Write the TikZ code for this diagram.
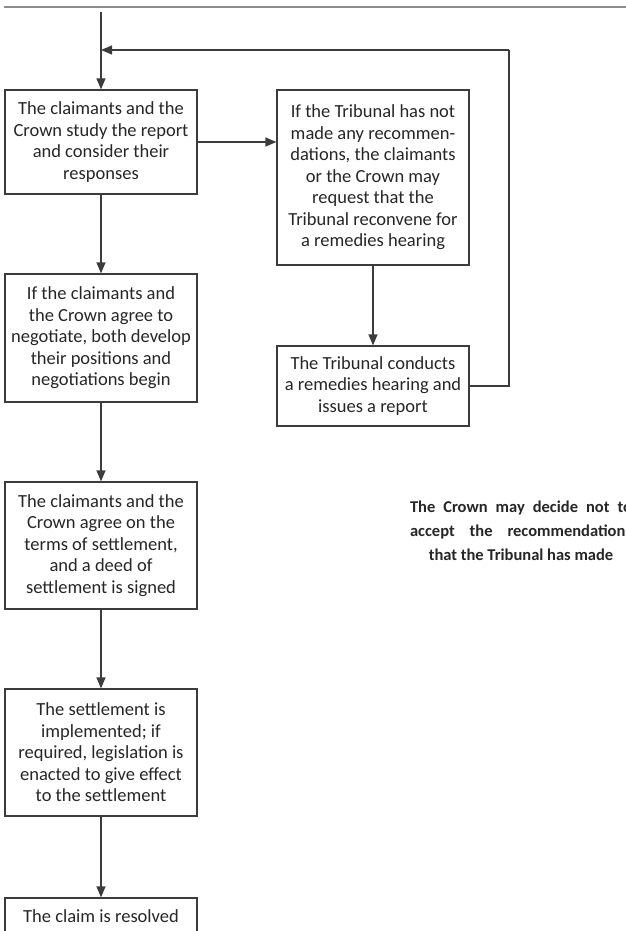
\documentclass[tikz,border=0pt]{standalone}
\usepackage{fontspec}
\setmainfont{Carlito}
\usetikzlibrary{arrows.meta}
\definecolor{tribline}{RGB}{60,60,60}
\definecolor{tribrule}{RGB}{140,140,140}

\begin{document}
\begin{tikzpicture}[x=1pt, y=-1pt,
  box/.style={draw=tribline, line width=1.2pt, minimum width=192pt, inner sep=0pt,
    align=center, font=\fontsize{18.5}{21.5}\selectfont, text=black!85},
  flow/.style={draw=tribline, line width=1.2pt, -{Triangle[length=11pt,width=9pt]}},
  link/.style={draw=tribline, line width=1.2pt}]
\useasboundingbox (0,0) rectangle (626,931);
% rule along the top
\draw[tribrule, line width=2pt] (4,7) -- (626,7);
% main column (left)
\node[box, minimum height=104pt] (study) at (101,142) {The claimants and the\\Crown study the report\\and consider their\\responses};
\node[box, minimum height=128pt] (negotiate) at (101,338) {If the claimants and\\the Crown agree to\\negotiate, both develop\\their positions and\\negotiations begin};
\node[box, minimum height=127pt] (agree) at (101,545.5) {The claimants and the\\Crown agree on the\\terms of settlement,\\and a deed of\\settlement is signed};
\node[box, minimum height=127pt] (implement) at (101,752.5) {The settlement is\\implemented; if\\required, legislation is\\enacted to give effect\\to the settlement};
\node[box, minimum height=36pt] (resolved) at (101,916) {The claim is resolved};
% remedies column (right)
\node[box, minimum height=175pt] (request) at (373,177.5) {If the Tribunal has not\\made any recommen-\\dations, the claimants\\or the Crown may\\request that the\\Tribunal reconvene for\\a remedies hearing};
\node[box, minimum height=80pt] (hearing) at (373,386) {The Tribunal conducts\\a remedies hearing and\\issues a report};
% note
\node[font=\fontsize{16.5}{24}\selectfont\bfseries, text=black!85, align=center] (note) at (521,531)
  {\makebox[222pt][s]{The Crown may decide not to}\\\makebox[222pt][s]{accept the recommendations}\\that the Tribunal has made};
% connectors
\coordinate (start) at (101,12);
\coordinate (join) at (101,50);
\coordinate (turn) at (509,50);
\draw[flow] (start) -- (study);
\draw[flow] (study.east) -- (study.east -| request.west);
\draw[flow] (request) -- (hearing);
\draw[link] (hearing.east) -| (turn);
\draw[flow] (turn) -- (join);
\draw[flow] (study) -- (negotiate);
\draw[flow] (negotiate) -- (agree);
\draw[flow] (agree) -- (implement);
\draw[flow] (implement) -- (resolved);
\end{tikzpicture}
\end{document}
